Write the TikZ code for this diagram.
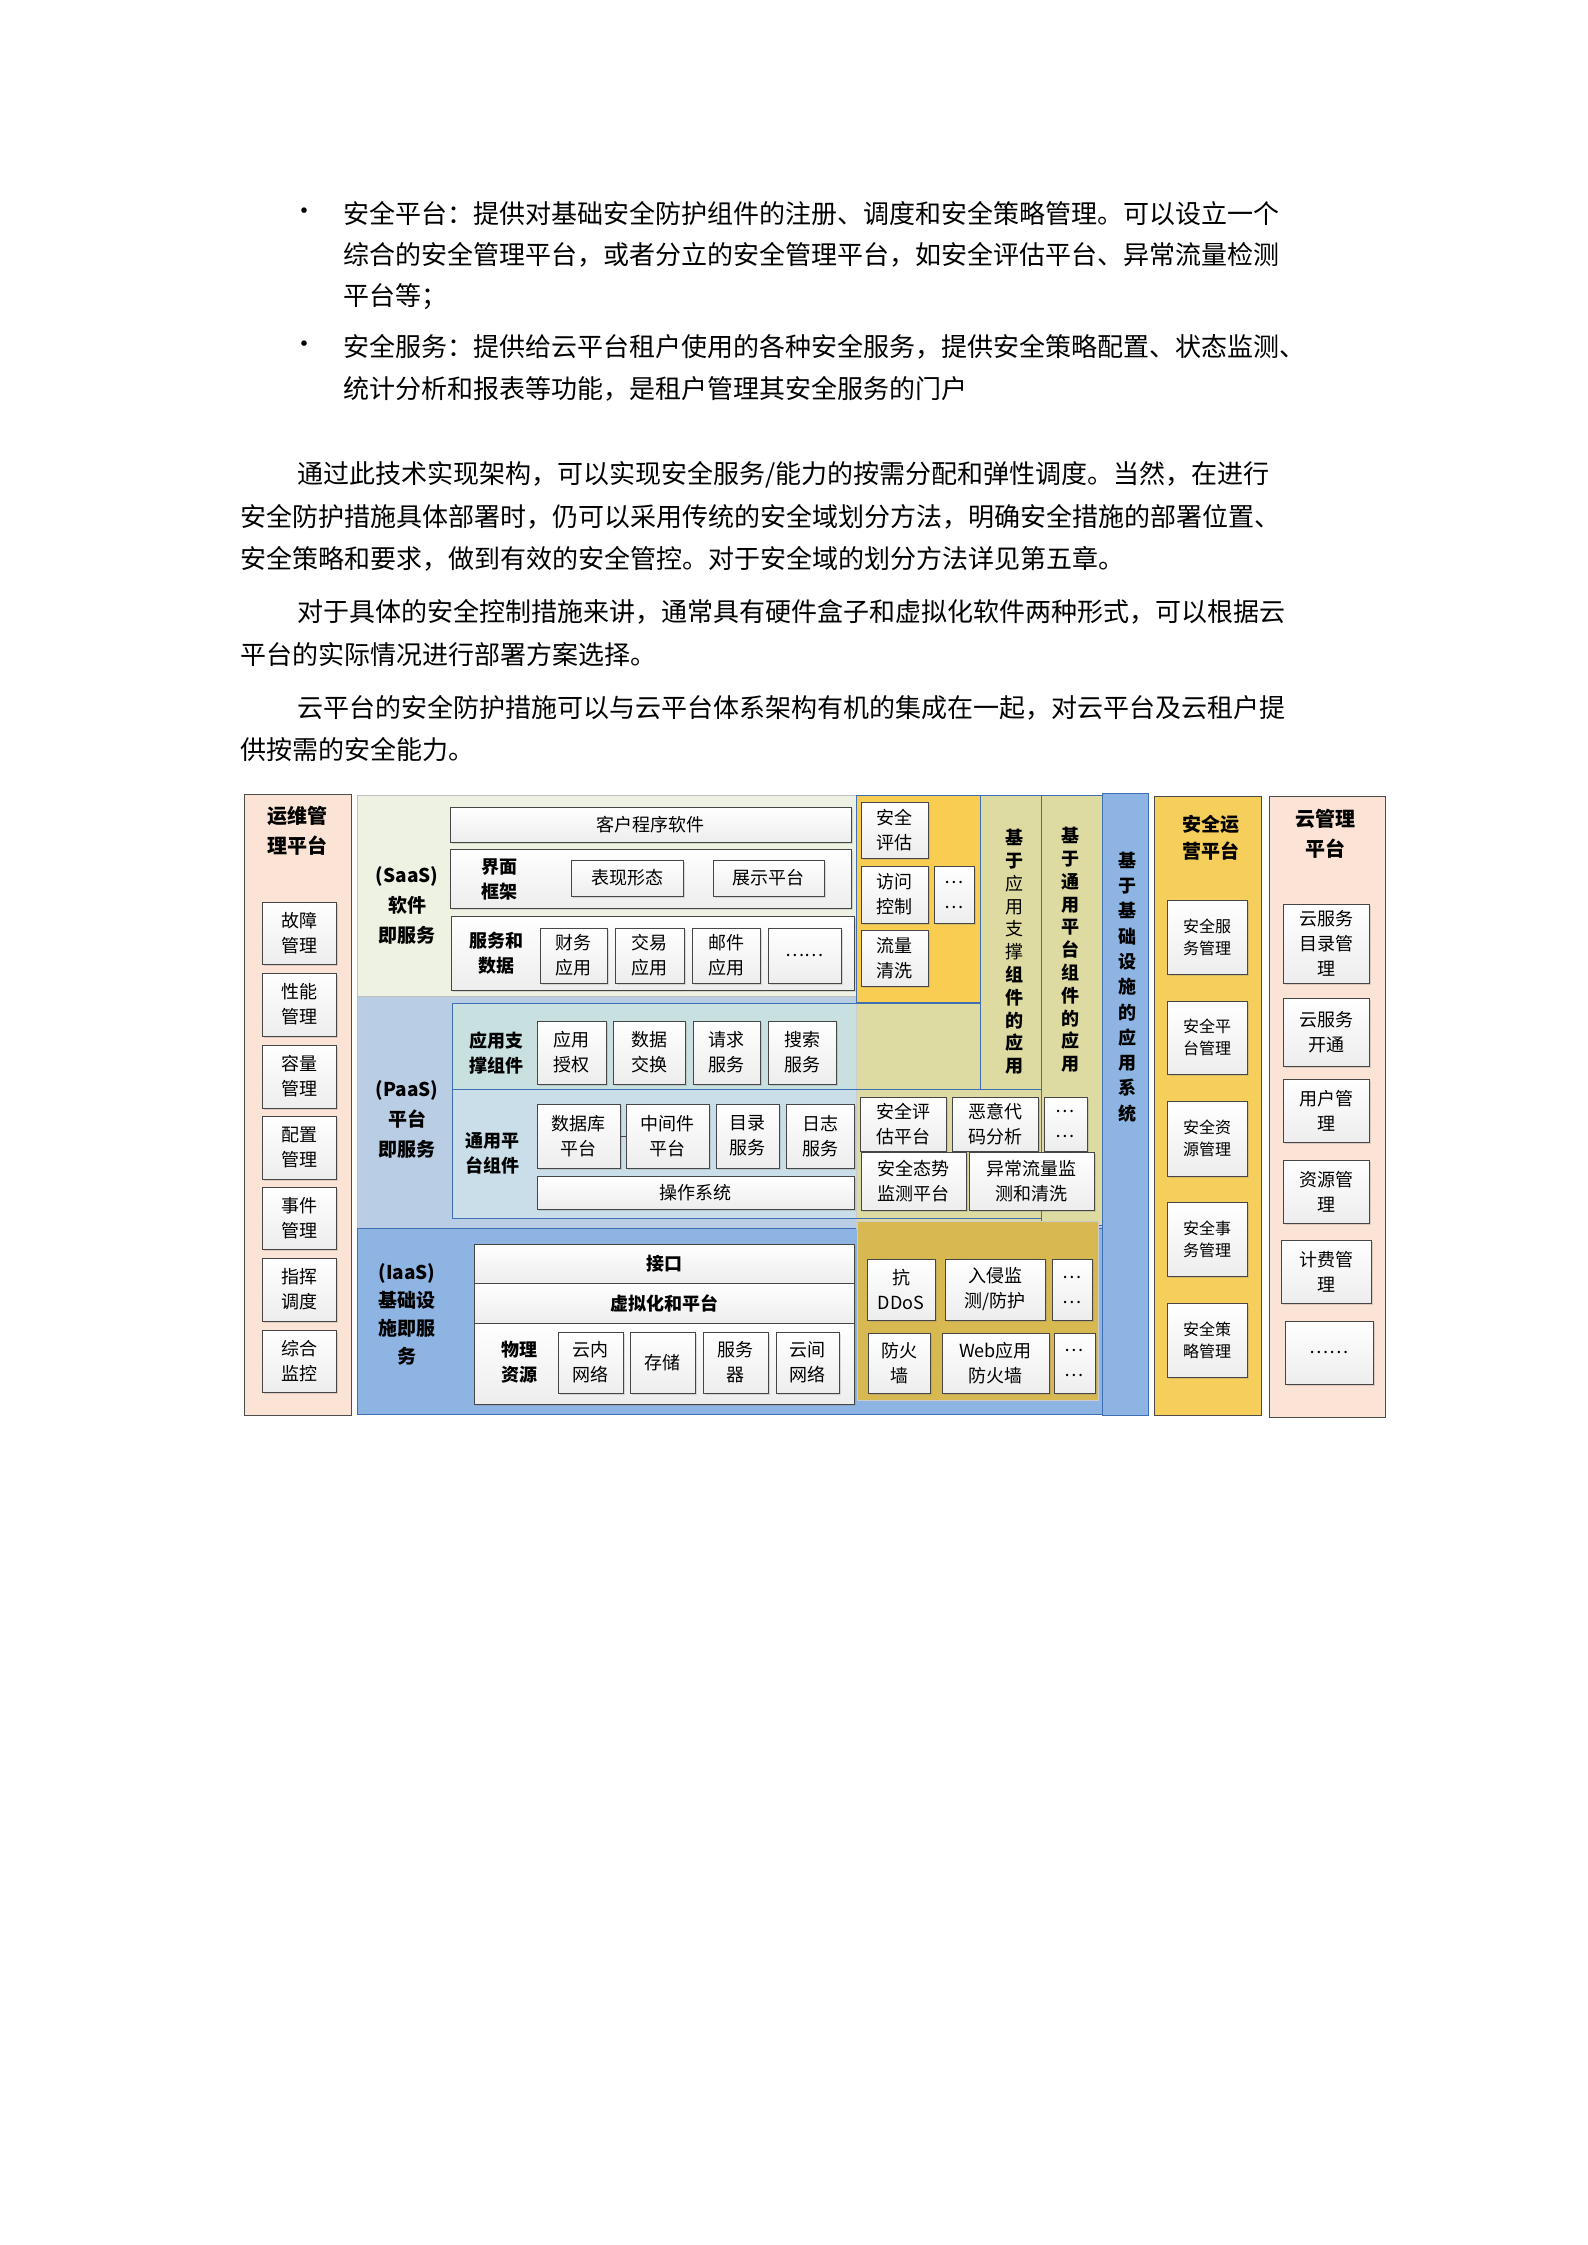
\documentclass[tikz,border=0pt]{standalone}
\usepackage{fontspec}
\setmainfont{Noto Sans CJK SC}
\usetikzlibrary{shadows}
\XeTeXlinebreaklocale "zh"
\XeTeXlinebreakskip=0pt plus 8pt
\definecolor{saasbg}{HTML}{EEF2E2}
\definecolor{paasbg}{HTML}{B9CDE5}
\definecolor{tealbg}{HTML}{C8E0E0}
\definecolor{genbg}{HTML}{C9DEE8}
\definecolor{iaasbg}{HTML}{8EB4E3}
\definecolor{bcol}{HTML}{8DB4E2}
\definecolor{bline}{HTML}{3E6FB5}
\definecolor{ytop}{HTML}{F8CD52}
\definecolor{olive}{HTML}{DDDBA2}
\definecolor{igold}{HTML}{D8B850}
\definecolor{secops}{HTML}{F6CE5C}
\definecolor{peach}{HTML}{FBE4D5}
\newcommand\B[7][]{\node[bx,#1, minimum width={#5pt-#3pt}, minimum height={#6pt-#4pt}] (#2) at ({(#3+#5)/2},{(#4+#6)/2}) {#7};}
\tikzset{
 bx/.style={draw=gray!55!black, line width=0.8pt, top color=white, bottom color=gray!14, inner sep=0pt, align=center, font=\fontsize{18}{25}\selectfont, drop shadow={opacity=0.25, shadow xshift=2pt, shadow yshift=-2pt}},
 lab/.style={align=center, inner sep=0pt, font=\bfseries\fontsize{18}{25}\selectfont},
 ttl/.style={align=center, inner sep=0pt, font=\bfseries\fontsize{20}{30}\selectfont},
 vtx/.style={align=center, inner sep=0pt, font=\bfseries\fontsize{18}{22.8}\selectfont},
 body/.style={anchor=west, inner sep=0pt, font=\fontsize{26}{34}\selectfont},
 small/.style={font=\fontsize{16}{22}\selectfont},
 bld/.style={font=\bfseries\fontsize{18}{25}\selectfont}
}
\begin{document}
\begin{tikzpicture}[x=1pt,y=-1pt]
\useasboundingbox (0,0) rectangle (1587,2245);
% ---------- text ----------
\node[body] (d1) at (291,214) {•};
\node[body] (d2) at (291,347) {•};
\node[body, text width=1001pt, align=justify] (t1) at (343,214) {\parfillskip=0pt 安全平台：提供对基础安全防护组件的注册、调度和安全策略管理。可以设立一个};
\node[body, text width=1001pt, align=justify] (t2) at (343,255) {\parfillskip=0pt 综合的安全管理平台，或者分立的安全管理平台，如安全评估平台、异常流量检测};
\node[body] (t3) at (343,297) {平台等；};
\node[body, text width=1001pt, align=justify] (t4) at (343,347) {\parfillskip=0pt 安全服务：提供给云平台租户使用的各种安全服务，提供安全策略配置、状态监测、};
\node[body] (t5) at (343,389) {统计分析和报表等功能，是租户管理其安全服务的门户};
\node[body, text width=1047pt, align=justify] (p1) at (297,475) {\parfillskip=0pt 通过此技术实现架构，可以实现安全服务/能力的按需分配和弹性调度。当然，在进行};
\node[body, text width=1104pt, align=justify] (p2) at (240,517) {\parfillskip=0pt 安全防护措施具体部署时，仍可以采用传统的安全域划分方法，明确安全措施的部署位置、};
\node[body] (p3) at (240,559) {安全策略和要求，做到有效的安全管控。对于安全域的划分方法详见第五章。};
\node[body, text width=1047pt, align=justify] (p4) at (297,612) {\parfillskip=0pt 对于具体的安全控制措施来讲，通常具有硬件盒子和虚拟化软件两种形式，可以根据云};
\node[body] (p5) at (240,655) {平台的实际情况进行部署方案选择。};
\node[body, text width=1047pt, align=justify] (p6) at (297,708) {\parfillskip=0pt 云平台的安全防护措施可以与云平台体系架构有机的集成在一起，对云平台及云租户提};
\node[body] (p7) at (240,750) {供按需的安全能力。};
% ---------- backgrounds ----------
\draw[gray!60!black, line width=1pt, fill=peach] (244,794) rectangle (351,1415);
\draw[gray!50, line width=1pt, fill=saasbg] (357,795) rectangle (856,996);
\draw[gray!50, line width=1pt, fill=paasbg] (357,996) rectangle (1102,1228);
\draw[bline, line width=1pt, fill=iaasbg] (357,1228) rectangle (1102,1414);
\fill[olive] (856,1002) rectangle (1093,1228);
\draw[gray!40, line width=0.6pt] (856,1002) rectangle (1093,1228);
\fill[tealbg] (452,1003) rectangle (856,1089);
\fill[genbg] (452,1089) rectangle (856,1218);
\draw[bline, line width=1pt] (452,1003) rectangle (1041,1089);
\draw[bline, line width=1pt] (452,1089) rectangle (1102,1218);
\draw[bline, line width=1pt, fill=olive] (980,795) rectangle (1041,1089);
\draw[bline, line width=1pt, fill=olive] (1041,795) rectangle (1102,1225);
\draw[bline, line width=1pt, fill=ytop] (856,795) rectangle (980,1002);
\draw[gray!40, line width=0.6pt, fill=igold] (857,1221) rectangle (1098,1400);
\draw[bline, line width=1pt, fill=bcol] (1102,793) rectangle (1148,1415);
\draw[gray!60!black, line width=1pt, fill=secops] (1154,796) rectangle (1261,1415);
\draw[gray!60!black, line width=1pt, fill=peach] (1269,796) rectangle (1385,1417);
% ---------- 运维管理平台 ----------
\node[ttl] (ywt) at (297,831) {运维管\\理平台};
\B{y1}{262}{902}{336}{964}{故障\\管理}
\B{y2}{262}{973}{336}{1036}{性能\\管理}
\B{y3}{262}{1045}{336}{1108}{容量\\管理}
\B{y4}{262}{1116}{336}{1179}{配置\\管理}
\B{y5}{262}{1187}{336}{1249}{事件\\管理}
\B{y6}{262}{1258}{336}{1321}{指挥\\调度}
\B{y7}{262}{1330}{336}{1392}{综合\\监控}
% ---------- SaaS ----------
\node[lab, font=\bfseries\fontsize{19}{30}\selectfont] (saas) at (407,905) {(SaaS)\\软件\\即服务};
\B{khcx}{450}{807}{851}{842}{客户程序软件}
\B{jmrow}{450}{849}{851}{908}{}
\node[lab] (jmkj) at (499,879) {界面\\框架};
\B{bxxt}{571}{860}{683}{896}{表现形态}
\B{zspt}{713}{860}{824}{896}{展示平台}
\B{fwrow}{451}{916}{854}{990}{}
\node[lab] (fwsj) at (496,953) {服务和\\数据};
\B{cw}{540}{928}{607}{983}{财务\\应用}
\B{jy}{615}{928}{684}{983}{交易\\应用}
\B{yj}{692}{928}{760}{983}{邮件\\应用}
\B{sd}{768}{928}{841}{983}{……}
% ---------- PaaS ----------
\node[lab, font=\bfseries\fontsize{19}{30}\selectfont] (paas) at (407,1119) {(PaaS)\\平台\\即服务};
\node[lab] (yyzc) at (496,1053) {应用支\\撑组件};
\B{yysq}{537}{1021}{606}{1084}{应用\\授权}
\B{sjjh}{613}{1021}{685}{1084}{数据\\交换}
\B{qqfw}{693}{1021}{760}{1084}{请求\\服务}
\B{ssfw}{768}{1021}{836}{1084}{搜索\\服务}
\node[lab] (typt) at (492,1153) {通用平\\台组件};
\B{sjk}{537}{1104}{620}{1168}{数据库\\平台}
\B{zjj}{626}{1104}{709}{1168}{中间件\\平台}
\B{mlfw}{716}{1104}{779}{1168}{目录\\服务}
\B{rzfw}{786}{1104}{854}{1168}{日志\\服务}
\draw[gray!55!black, line width=0.8pt] (sjk.east) -- (zjj.west);
\B{czxt}{537}{1176}{854}{1209}{操作系统}
% ---------- IaaS ----------
\node[lab, font=\bfseries\fontsize{19}{28}\selectfont] (iaas) at (407,1314) {(IaaS)\\基础设\\施即服\\务};
\B[bld]{jk}{474}{1244}{854}{1283}{接口}
\B[bld]{xnh}{474}{1283}{854}{1323}{虚拟化和平台}
\B{wlrow}{474}{1323}{854}{1404}{}
\node[lab] (wlzy) at (519,1362) {物理\\资源};
\B{ynwl}{558}{1332}{623}{1393}{云内\\网络}
\B{cc}{630}{1332}{695}{1393}{存储}
\B{fwq}{703}{1332}{768}{1393}{服务\\器}
\B{yjwl}{776}{1332}{839}{1393}{云间\\网络}
% ---------- security components ----------
\B{aqpg}{861}{802}{928}{858}{安全\\评估}
\B{fwkz}{861}{866}{928}{923}{访问\\控制}
\B{dot1}{934}{866}{974}{923}{…\\…}
\B{llqx}{861}{930}{928}{986}{流量\\清洗}
\node[vtx] (v1) at (1014,952) {基\\于\\{\mdseries 应}\\{\mdseries 用}\\{\mdseries 支}\\{\mdseries 撑}\\组\\件\\的\\应\\用};
\node[vtx] (v2) at (1070,950) {基\\于\\通\\用\\平\\台\\组\\件\\的\\应\\用};
\node[vtx, font=\bfseries\fontsize{18}{25.3}\selectfont] (v3) at (1127,987) {基\\于\\基\\础\\设\\施\\的\\应\\用\\系\\统};
\B{aqpgpt}{860}{1097}{946}{1151}{安全评\\估平台}
\B{eydm}{952}{1097}{1038}{1151}{恶意代\\码分析}
\B{dot2}{1044}{1097}{1087}{1151}{…\\…}
\B{aqts}{861}{1152}{966}{1210}{安全态势\\监测平台}
\B{ycll}{969}{1152}{1094}{1210}{异常流量监\\测和清洗}
\B{ddos}{867}{1259}{935}{1320}{抗\\DDoS}
\B{rq}{945}{1259}{1045}{1320}{入侵监\\测/防护}
\B{dot3}{1052}{1259}{1092}{1320}{…\\…}
\B{fhq}{868}{1333}{930}{1393}{防火\\墙}
\B{web}{942}{1333}{1049}{1393}{Web应用\\防火墙}
\B{dot4}{1054}{1333}{1095}{1393}{…\\…}
% ---------- 安全运营平台 ----------
\node[ttl, font=\bfseries\fontsize{19}{27}\selectfont] (aqyy) at (1211,838) {安全运\\营平台};
\B[small]{s1}{1167}{900}{1247}{974}{安全服\\务管理}
\B[small]{s2}{1167}{1001}{1247}{1074}{安全平\\台管理}
\B[small]{s3}{1167}{1101}{1247}{1176}{安全资\\源管理}
\B[small]{s4}{1167}{1202}{1247}{1276}{安全事\\务管理}
\B[small]{s5}{1167}{1303}{1247}{1377}{安全策\\略管理}
% ---------- 云管理平台 ----------
\node[ttl] (yglpt) at (1325,834) {云管理\\平台};
\B{c1}{1283}{904}{1369}{983}{云服务\\目录管\\理}
\B{c2}{1283}{998}{1369}{1066}{云服务\\开通}
\B{c3}{1283}{1079}{1369}{1142}{用户管\\理}
\B{c4}{1283}{1160}{1369}{1223}{资源管\\理}
\B{c5}{1281}{1240}{1371}{1303}{计费管\\理}
\B{c6}{1285}{1321}{1373}{1384}{……}
\end{tikzpicture}
\end{document}
